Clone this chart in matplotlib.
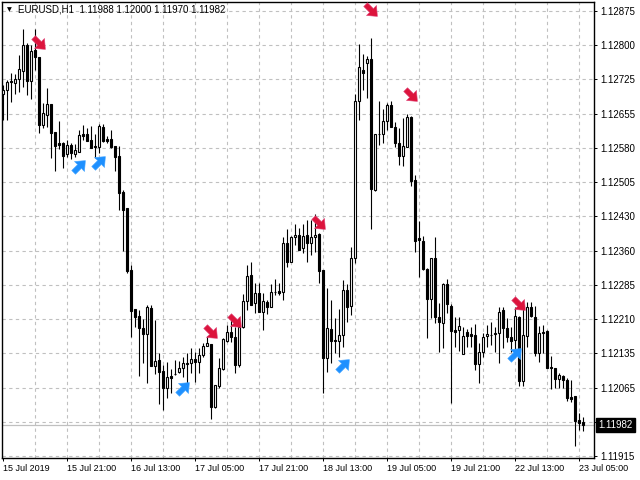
import numpy as np
import matplotlib
matplotlib.use("Agg")
import matplotlib.pyplot as plt

# EURUSD H1 candles, 15 Jul 2019 05:00 .. 23 Jul 2019 06:00 (146 bars)
opens = [1.12696, 1.12705, 1.12724, 1.12720, 1.12728, 1.12746, 1.12802, 1.12724, 1.12791, 1.12776,
         1.12629, 1.12651, 1.12674, 1.12614, 1.12590, 1.12590, 1.12567, 1.12586, 1.12567, 1.12571,
         1.12610, 1.12610, 1.12597, 1.12584, 1.12582, 1.12625, 1.12599, 1.12599, 1.12584, 1.12562,
         1.12485, 1.12450, 1.12316, 1.12232, 1.12217, 1.12191, 1.12178, 1.12234, 1.12109, 1.12122,
         1.12098, 1.12062, 1.12088, 1.12092, 1.12096, 1.12105, 1.12114, 1.12116, 1.12124, 1.12118,
         1.12133, 1.12152, 1.12157, 1.12021, 1.12066, 1.12103, 1.12163, 1.12183, 1.12172, 1.12111,
         1.12193, 1.12250, 1.12306, 1.12245, 1.12267, 1.12226, 1.12247, 1.12237, 1.12269, 1.12271,
         1.12269, 1.12375, 1.12334, 1.12387, 1.12392, 1.12364, 1.12392, 1.12375, 1.12387, 1.12394,
         1.12316, 1.12126, 1.12189, 1.12165, 1.12163, 1.12176, 1.12273, 1.12239, 1.12342, 1.12681,
         1.12748, 1.12763, 1.12771, 1.12489, 1.12610, 1.12610, 1.12638, 1.12672, 1.12625, 1.12590,
         1.12562, 1.12582, 1.12646, 1.12511, 1.12385, 1.12379, 1.12318, 1.12254, 1.12342, 1.12215,
         1.12202, 1.12286, 1.12239, 1.12187, 1.12187, 1.12135, 1.12183, 1.12178, 1.12176, 1.12114,
         1.12139, 1.12174, 1.12176, 1.12178, 1.12180, 1.12229, 1.12191, 1.12172, 1.12165, 1.12215,
         1.12077, 1.12174, 1.12237, 1.12215, 1.12137, 1.12183, 1.12185, 1.12107, 1.12105, 1.12081,
         1.12088, 1.12079, 1.12043, 1.12045, 1.11993, 1.11988]
highs = [1.12715, 1.12726, 1.12741, 1.12739, 1.12780, 1.12836, 1.12806, 1.12802, 1.12836, 1.12776,
         1.12677, 1.12709, 1.12674, 1.12614, 1.12638, 1.12592, 1.12597, 1.12590, 1.12588, 1.12618,
         1.12629, 1.12623, 1.12627, 1.12610, 1.12631, 1.12631, 1.12605, 1.12618, 1.12584, 1.12584,
         1.12489, 1.12450, 1.12327, 1.12232, 1.12230, 1.12211, 1.12241, 1.12241, 1.12208, 1.12137,
         1.12111, 1.12118, 1.12103, 1.12122, 1.12120, 1.12129, 1.12137, 1.12148, 1.12139, 1.12148,
         1.12159, 1.12174, 1.12157, 1.12068, 1.12126, 1.12170, 1.12198, 1.12208, 1.12193, 1.12215,
         1.12265, 1.12327, 1.12334, 1.12288, 1.12288, 1.12267, 1.12252, 1.12286, 1.12297, 1.12288,
         1.12387, 1.12405, 1.12390, 1.12416, 1.12407, 1.12416, 1.12424, 1.12424, 1.12437, 1.12396,
         1.12316, 1.12278, 1.12252, 1.12213, 1.12232, 1.12295, 1.12286, 1.12366, 1.12696, 1.12804,
         1.12782, 1.12778, 1.12817, 1.12610, 1.12681, 1.12664, 1.12677, 1.12681, 1.12636, 1.12623,
         1.12644, 1.12653, 1.12649, 1.12521, 1.12422, 1.12390, 1.12321, 1.12342, 1.12387, 1.12245,
         1.12288, 1.12297, 1.12243, 1.12215, 1.12215, 1.12193, 1.12189, 1.12193, 1.12200, 1.12159,
         1.12180, 1.12198, 1.12204, 1.12193, 1.12237, 1.12237, 1.12213, 1.12193, 1.12237, 1.12217,
         1.12239, 1.12247, 1.12247, 1.12239, 1.12196, 1.12198, 1.12187, 1.12131, 1.12105, 1.12094,
         1.12090, 1.12083, 1.12079, 1.12045, 1.12008, 1.12000]
lows = [1.12640, 1.12640, 1.12679, 1.12696, 1.12700, 1.12711, 1.12694, 1.12685, 1.12748, 1.12612,
        1.12623, 1.12625, 1.12558, 1.12530, 1.12577, 1.12536, 1.12560, 1.12556, 1.12560, 1.12571,
        1.12597, 1.12595, 1.12579, 1.12558, 1.12569, 1.12592, 1.12590, 1.12579, 1.12530, 1.12446,
        1.12357, 1.12310, 1.12172, 1.12193, 1.12088, 1.12116, 1.12073, 1.12109, 1.12092, 1.12027,
        1.12014, 1.12040, 1.12051, 1.12090, 1.12094, 1.12086, 1.12073, 1.12094, 1.12075, 1.12094,
        1.12129, 1.12152, 1.11995, 1.12019, 1.12062, 1.12101, 1.12161, 1.12161, 1.12094, 1.12107,
        1.12191, 1.12230, 1.12241, 1.12224, 1.12226, 1.12187, 1.12221, 1.12237, 1.12262, 1.12262,
        1.12252, 1.12323, 1.12334, 1.12370, 1.12359, 1.12353, 1.12334, 1.12349, 1.12355, 1.12288,
        1.12051, 1.12096, 1.12116, 1.12137, 1.12129, 1.12150, 1.12204, 1.12219, 1.12331, 1.12640,
        1.12705, 1.12687, 1.12405, 1.12487, 1.12586, 1.12590, 1.12618, 1.12625, 1.12582, 1.12543,
        1.12541, 1.12582, 1.12497, 1.12355, 1.12301, 1.12316, 1.12170, 1.12213, 1.12202, 1.12139,
        1.12148, 1.12224, 1.12030, 1.12150, 1.12142, 1.12135, 1.12150, 1.12150, 1.12101, 1.12073,
        1.12129, 1.12150, 1.12155, 1.12139, 1.12116, 1.12148, 1.12161, 1.12139, 1.12146, 1.12066,
        1.12066, 1.12150, 1.12215, 1.12131, 1.12118, 1.12137, 1.12105, 1.12060, 1.12062, 1.12062,
        1.12062, 1.12034, 1.12032, 1.11937, 1.11971, 1.11970]
closes = [1.12705, 1.12722, 1.12722, 1.12728, 1.12750, 1.12802, 1.12724, 1.12789, 1.12776, 1.12629,
          1.12655, 1.12674, 1.12612, 1.12584, 1.12586, 1.12562, 1.12586, 1.12569, 1.12575, 1.12608,
          1.12605, 1.12595, 1.12579, 1.12582, 1.12627, 1.12595, 1.12595, 1.12582, 1.12560, 1.12482,
          1.12446, 1.12314, 1.12228, 1.12215, 1.12191, 1.12178, 1.12237, 1.12109, 1.12120, 1.12096,
          1.12062, 1.12086, 1.12083, 1.12092, 1.12105, 1.12116, 1.12116, 1.12124, 1.12118, 1.12133,
          1.12152, 1.12159, 1.12021, 1.12068, 1.12105, 1.12167, 1.12183, 1.12172, 1.12111, 1.12193,
          1.12250, 1.12303, 1.12241, 1.12267, 1.12226, 1.12250, 1.12237, 1.12269, 1.12269, 1.12267,
          1.12375, 1.12334, 1.12387, 1.12392, 1.12359, 1.12390, 1.12375, 1.12387, 1.12392, 1.12314,
          1.12126, 1.12191, 1.12163, 1.12163, 1.12176, 1.12273, 1.12237, 1.12342, 1.12681, 1.12754,
          1.12741, 1.12771, 1.12491, 1.12610, 1.12610, 1.12638, 1.12672, 1.12625, 1.12590, 1.12562,
          1.12584, 1.12646, 1.12508, 1.12379, 1.12381, 1.12318, 1.12254, 1.12342, 1.12215, 1.12204,
          1.12286, 1.12243, 1.12185, 1.12183, 1.12196, 1.12174, 1.12174, 1.12174, 1.12114, 1.12139,
          1.12172, 1.12178, 1.12176, 1.12180, 1.12226, 1.12191, 1.12172, 1.12163, 1.12217, 1.12077,
          1.12176, 1.12237, 1.12217, 1.12137, 1.12180, 1.12180, 1.12105, 1.12105, 1.12081, 1.12090,
          1.12079, 1.12040, 1.12038, 1.11991, 1.11986, 1.11982]

# signal arrows (bar index, price)
sell_bars = [9, 52, 58, 79, 92, 102, 129]
sell_prices = [1.12806, 1.12183, 1.12206, 1.12418, 1.12877, 1.12694, 1.12243]
buy_bars = [19, 24, 45, 85, 128]
buy_prices = [1.12541, 1.12549, 1.12062, 1.12111, 1.12135]

price_labels = ["1.12875", "1.12800", "1.12725", "1.12655", "1.12580", "1.12505", "1.12430",
                "1.12360", "1.12285", "1.12210", "1.12135", "1.12065", "", "1.11915"]
time_labels = ["15 Jul 2019", "15 Jul 21:00", "16 Jul 13:00", "17 Jul 05:00", "17 Jul 21:00",
               "18 Jul 13:00", "19 Jul 05:00", "19 Jul 21:00", "22 Jul 13:00", "23 Jul 05:00"]
last_price = 1.11982
header = "EURUSD,H1  1.11988 1.12000 1.11970 1.11982"

o = np.array(opens)
h = np.array(highs)
l = np.array(lows)
c = np.array(closes)
x = np.arange(len(o))


def arrow_marker(angle_deg):
    # block arrow pointing along +x, then rotated
    pts = np.array([[-1.0, -0.32], [0.0, -0.32], [0.0, -0.85], [1.0, 0.0],
                    [0.0, 0.85], [0.0, 0.32], [-1.0, 0.32], [-1.0, -0.32]])
    a = np.deg2rad(angle_deg)
    rot = np.array([[np.cos(a), -np.sin(a)], [np.sin(a), np.cos(a)]])
    return pts @ rot.T


fig = plt.figure(figsize=(6.4, 4.8), dpi=100)
ax = fig.add_axes([2 / 640, 22 / 480, 592 / 640, 456 / 480])

# grid
ytick_pos = np.linspace(1.12875, 1.11915, len(price_labels))
for yp in ytick_pos:
    ax.axhline(yp, color="#c0c0c0", lw=0.8, ls=(0, (3, 3)), zorder=0)
for xv in range(8, len(o) + 8, 8):
    ax.axvline(xv, color="#c0c0c0", lw=0.8, ls=(0, (3, 3)), zorder=0)

# current price line
ax.axhline(last_price, color="#c0c0c0", lw=0.9, zorder=1)

# candles
ax.vlines(x, l, h, color="black", lw=0.8, zorder=2)
up = c >= o
ax.bar(x[up], c[up] - o[up], bottom=o[up], width=0.55, color="white",
       edgecolor="black", linewidth=0.8, zorder=3)
ax.bar(x[~up], c[~up] - o[~up], bottom=o[~up], width=0.55, color="black",
       edgecolor="black", linewidth=0.8, zorder=3)

# arrows
ax.scatter(sell_bars, sell_prices, marker=arrow_marker(-45), s=125, color="#dc143c",
           edgecolors="#e0457a", linewidths=0.4, zorder=5, clip_on=False)
ax.scatter(buy_bars, buy_prices, marker=arrow_marker(45), s=125, color="#1e90ff",
           edgecolors="#4aa8ff", linewidths=0.4, zorder=5, clip_on=False)

ax.set_xlim(-0.33, 147.7)
ax.set_ylim(1.119107, 1.128944)

ax.yaxis.tick_right()
ax.set_yticks(ytick_pos)
ax.set_yticklabels(price_labels, fontsize=7, family="Liberation Sans")
ax.tick_params(axis="y", length=2.5, width=0.7, pad=2, direction="out")

ax.set_xticks(np.arange(0, 16 * len(time_labels), 16))
ax.set_xticklabels(time_labels, fontsize=6.5, family="Liberation Sans")
for lab in ax.get_xticklabels():
    lab.set_horizontalalignment("left")
ax.tick_params(axis="x", length=2.5, width=0.7, pad=1.5, direction="out")

for sp in ax.spines.values():
    sp.set_linewidth(1.0)
    sp.set_color("black")

# current price box
ax.annotate(f"{last_price:.5f}", xy=(1, last_price), xycoords=("axes fraction", "data"),
            xytext=(3, 0), textcoords="offset points", ha="left", va="center",
            fontsize=7, family="Liberation Sans", color="white", zorder=10,
            bbox=dict(boxstyle="square,pad=0.25", fc="black", ec="black"))

# header
fig.text(7 / 640, 1 - 10 / 480, "\u25bc", fontsize=4.5, va="center", ha="left")
fig.text(18 / 640, 1 - 10 / 480, header, fontsize=7, va="center", ha="left",
         family="Liberation Sans")

fig.savefig("out.png", dpi=100)
